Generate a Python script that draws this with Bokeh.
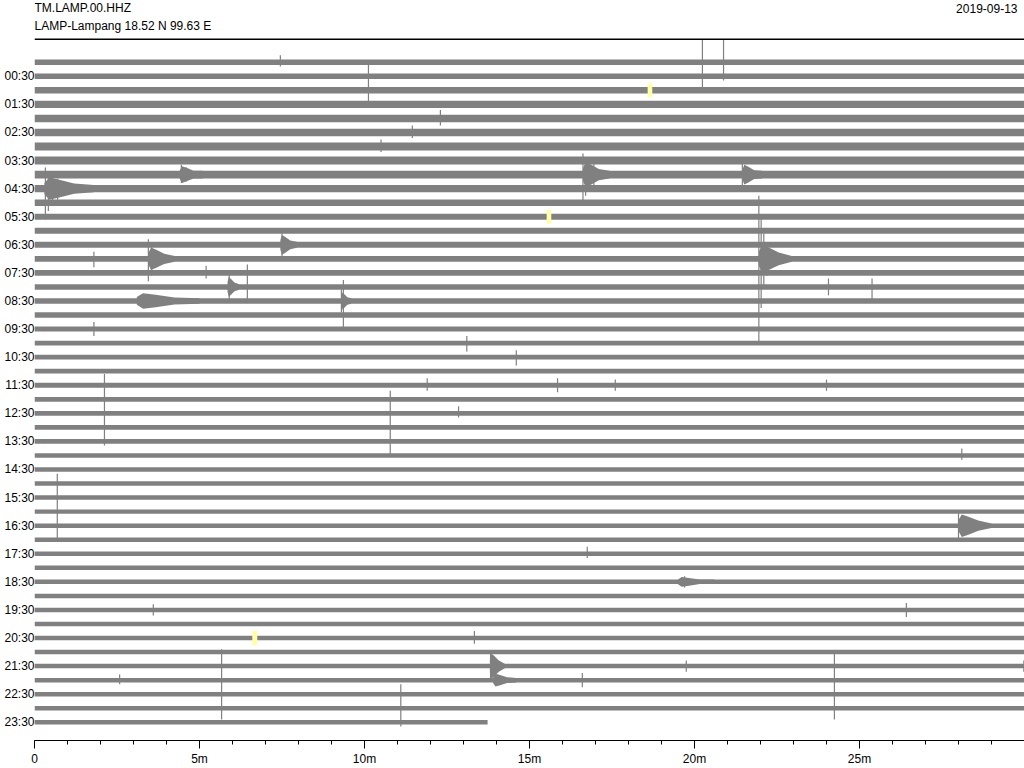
from bokeh.plotting import figure
from bokeh.models import Range1d, FixedTicker, Span
from bokeh.core.properties import value
from bokeh.embed import file_html
from bokeh.resources import INLINE

# ---------------- data ----------------
station_code = "TM.LAMP.00.HHZ"
station_info = "LAMP-Lampang  18.52 N 99.63 E"
day_label = "2019-09-13"

# 48 half-hour traces (line 0 = 00:00 ... line 47 = 23:30); noise half-amplitude in line spacings
trace_amp = [0.19, 0.19, 0.23, 0.25, 0.27, 0.27, 0.29, 0.29, 0.27, 0.25,
             0.23, 0.22, 0.22, 0.21, 0.21, 0.20, 0.20, 0.20, 0.19, 0.18,
             0.17, 0.17, 0.17, 0.17, 0.17, 0.17, 0.17, 0.17, 0.16, 0.16,
             0.16, 0.16, 0.16, 0.16, 0.16, 0.16, 0.16, 0.16, 0.16, 0.16,
             0.16, 0.16, 0.16, 0.16, 0.16, 0.16, 0.16, 0.16]
trace_end = [30.0] * 47 + [13.73]   # minutes of data recorded in each trace

# spikes: trace, minute, amplitude up, amplitude down (line spacings)
spike_line = [0, 0, 0, 1, 4, 5, 6, 16, 17, 16, 16, 15, 14, 19, 20, 21, 23, 23, 23, 23,
              24, 25, 26, 32, 28, 35, 39, 39, 41, 45, 45, 46, 44, 44, 43, 43,
              8, 8, 8, 8, 9, 9, 9, 9, 14, 14, 14, 14, 14, 14,
              8, 8, 8, 13, 16, 17, 33, 33, 43, 43, 37]
spike_min = [20.24, 20.88, 7.45, 10.12, 12.3, 11.45, 10.5, 6.45, 9.36, 24.06, 25.38, 5.2, 1.8, 1.8, 13.1, 14.6, 15.85, 11.9, 17.6, 24.0,
             2.12, 12.85, 10.78, 0.69, 28.1, 16.75, 26.42, 3.6, 13.33, 5.67, 24.24, 11.1, 2.58, 16.6, 19.75, 29.98,
             16.62, 16.7, 16.8, 16.95, 0.33, 0.42, 0.55, 0.7, 21.95, 22.02, 22.1, 22.2, 3.45, 3.55,
             21.45, 4.45, 4.6, 7.5, 5.9, 9.3, 28.0, 28.1, 13.82, 13.9, 19.7]
spike_up = [1.63, 1.63, 0.5, 1.1, 0.6, 0.5, 0.5, 1.6, 1.5, 0.6, 0.6, 0.5, 0.5, 0.5, 0.5, 0.5, 0.5, 0.5, 0.4, 0.4,
            1.8, 0.5, 2.6, 2.7, 0.5, 0.5, 0.5, 0.4, 0.5, 3.2, 3.0, 1.7, 0.4, 0.5, 0.4, 0.4,
            1.5, 1.2, 1.0, 0.8, 1.5, 1.2, 0.9, 0.7, 4.5, 3.0, 1.8, 1.2, 1.4, 1.0,
            0.8, 0.7, 0.5, 0.9, 0.9, 0.8, 1.0, 0.7, 1.0, 0.7, 0.4]
spike_down = [2.0, 1.3, 0.3, 2.0, 0.5, 0.4, 0.4, 1.0, 2.1, 0.6, 1.0, 0.4, 0.6, 0.5, 0.6, 0.6, 0.5, 0.4, 0.4, 0.4,
              3.3, 0.3, 2.1, 2.1, 0.3, 0.3, 0.5, 0.4, 0.4, 1.8, 1.8, 1.3, 0.3, 0.5, 0.4, 0.4,
              2.1, 1.5, 1.2, 0.8, 2.2, 1.6, 1.1, 0.8, 5.9, 3.5, 2.0, 1.2, 1.6, 1.2,
              0.9, 0.6, 0.5, 0.8, 1.0, 0.8, 1.0, 0.7, 0.9, 0.7, 0.4]

# codas of earthquake signals: trace, start minute, duration (min), peak half-amplitude
coda_line = [9, 8, 8, 8, 14, 14, 13, 17, 16, 17, 33, 43, 44, 37]
coda_min = [0.3, 16.62, 21.45, 4.4, 21.95, 3.45, 7.45, 3.1, 5.85, 9.3, 28.0, 13.8, 13.9, 19.5]
coda_dur = [1.5, 0.8, 0.6, 0.7, 1.0, 0.8, 0.5, 1.9, 0.35, 0.3, 1.0, 0.45, 0.7, 1.1]
coda_amp = [0.8, 0.9, 0.7, 0.6, 1.0, 0.8, 0.7, 0.55, 0.7, 0.6, 0.8, 0.9, 0.45, 0.35]

# highlighted marks: trace, start minute, end minute
mark_line = [2, 11, 41]
mark_start = [18.58, 15.52, 6.60]
mark_end = [18.72, 15.66, 6.75]

x_ticks = [0, 5, 10, 15, 20, 25]
x_tick_labels = ["0", "5m", "10m", "15m", "20m", "25m"]
y_ticks = list(range(1, 48, 2))
y_tick_labels = ["%02d:30" % h for h in range(24)]

# ---------------- figure ----------------
GRAY = "#808080"
FONT = "Liberation Sans"

p = figure(width=1024, height=768, output_backend="svg", toolbar_location=None,
           x_range=Range1d(0, 30), y_range=Range1d(48.298, -4.397),
           min_border_left=34, min_border_right=0, min_border_top=0, min_border_bottom=25,
           title=None)
p.outline_line_color = None
p.grid.visible = False
p.background_fill_color = "white"
p.border_fill_color = "white"

# traces
n = len(trace_amp)
lines = list(range(n))
p.quad(left=[0.0] * n, right=trace_end,
       top=[i - a for i, a in zip(lines, trace_amp)],
       bottom=[i + a for i, a in zip(lines, trace_amp)],
       fill_color=GRAY, line_color=None)

# codas as spindle-shaped patches
xs, ys = [], []
for L, t, d, a in zip(coda_line, coda_min, coda_dur, coda_amp):
    b = trace_amp[L]
    px = [t, t + 0.1 * d, t + 0.3 * d, t + 0.6 * d, t + d]
    half = [max(b, 0.5 * a), a, 0.8 * a, max(b, 0.45 * a), b]
    xs.append(px + px[::-1])
    ys.append([L - h for h in half] + [L + h for h in half[::-1]])
p.patches(xs, ys, fill_color=GRAY, line_color=None)

# spikes
p.segment(x0=spike_min, x1=spike_min,
          y0=[L - u for L, u in zip(spike_line, spike_up)],
          y1=[L + d for L, d in zip(spike_line, spike_down)],
          line_color=GRAY, line_width=1.2)

# marks
p.quad(left=mark_start, right=mark_end,
       top=[L - 0.5 for L in mark_line], bottom=[L + 0.5 for L in mark_line],
       fill_color="#ffffa8", line_color=None)

# header
p.add_layout(Span(location=-1.631, dimension="width", line_color="black", line_width=1.5))
p.text(x=[0, 0], y=[-3.83, -2.553], text=[station_code, station_info],
       text_font=value(FONT), text_font_size="12px", text_color="black",
       text_align="left", text_baseline="middle")
p.text(x=[30], y=[-3.83], text=[day_label],
       text_font=value(FONT), text_font_size="12px", text_color="black",
       text_align="right", text_baseline="middle", x_offset=-7)

# x axis
xa = p.xaxis[0]
xa.ticker = FixedTicker(ticks=x_ticks, minor_ticks=list(range(0, 31)))
xa.major_label_overrides = {t: s for t, s in zip(x_ticks, x_tick_labels)}
xa.axis_line_color = "black"
xa.major_tick_line_color = "black"
xa.minor_tick_line_color = "black"
xa.major_tick_in = 0
xa.major_tick_out = 8
xa.minor_tick_in = 0
xa.minor_tick_out = 4
xa.major_label_standoff = 3
xa.major_label_text_font = FONT
xa.major_label_text_font_size = "12px"
xa.major_label_text_color = "black"

# y axis
ya = p.yaxis[0]
ya.ticker = FixedTicker(ticks=y_ticks, minor_ticks=[])
ya.major_label_overrides = {t: s for t, s in zip(y_ticks, y_tick_labels)}
ya.axis_line_color = None
ya.major_tick_line_color = None
ya.minor_tick_line_color = None
ya.major_tick_in = 0
ya.major_tick_out = 0
ya.major_label_standoff = 0
ya.major_label_text_font = FONT
ya.major_label_text_font_size = "12px"
ya.major_label_text_color = "black"

open("out.html", "w").write(file_html(p, INLINE))
